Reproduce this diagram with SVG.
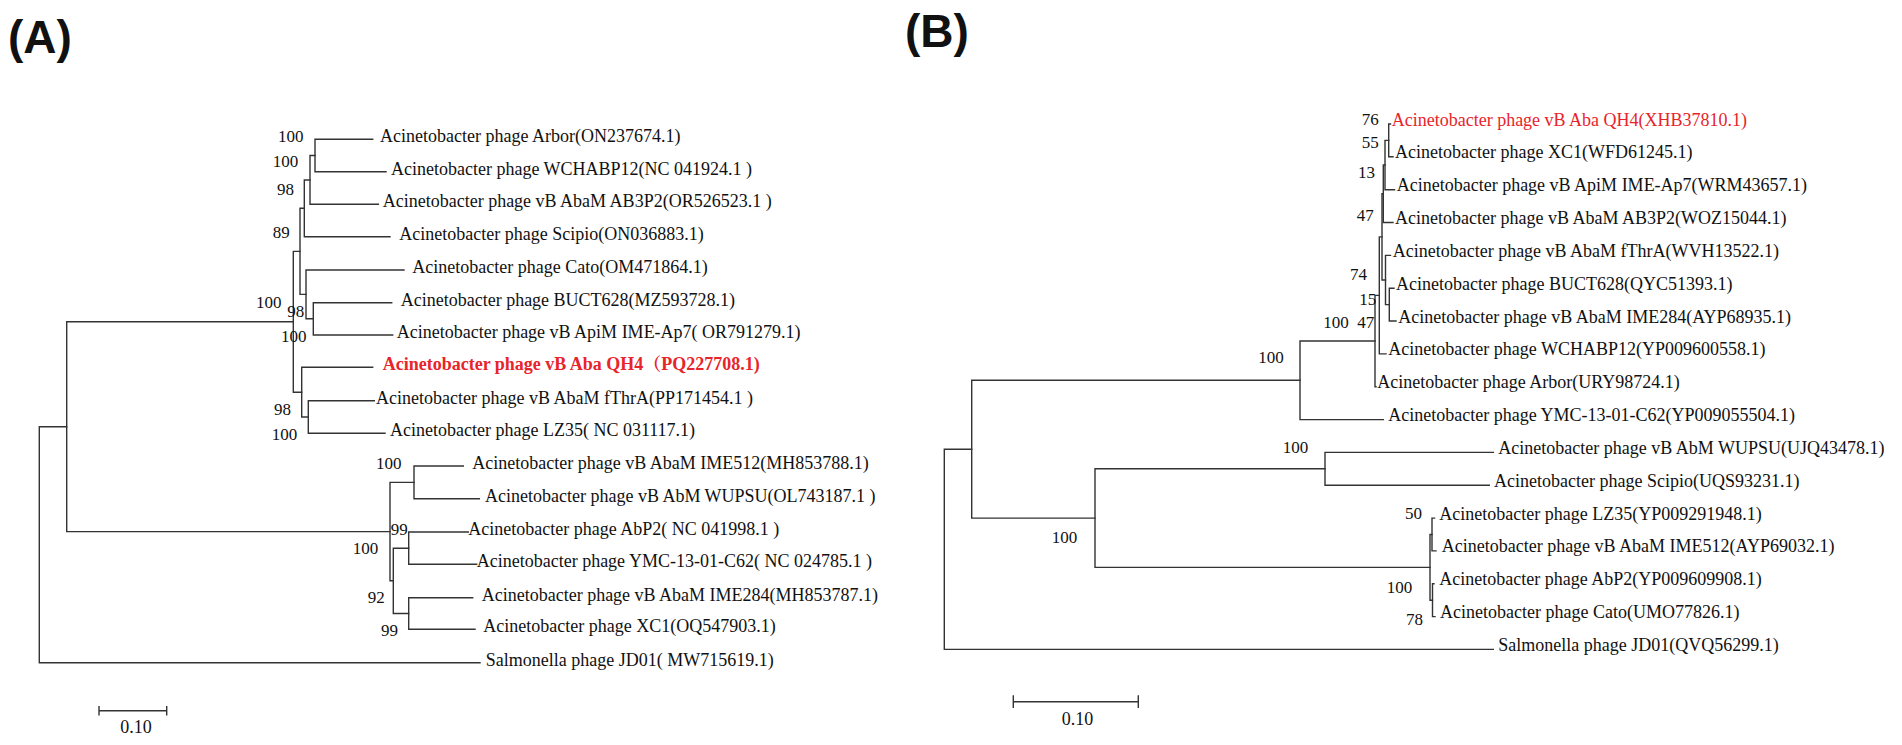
<svg xmlns="http://www.w3.org/2000/svg" width="1902" height="745" viewBox="0 0 1902 745">
<style>
.bg{fill:#ffffff}
.ln{fill:none;stroke:#333333;stroke-width:1.4;stroke-linecap:square}
.lf{font-family:"Liberation Serif","Times New Roman",serif;font-size:18px;fill:#111111}
.red{fill:#e8242b}
.bold{font-weight:bold}
.bs{font-family:"Liberation Serif","Times New Roman",serif;font-size:17px;fill:#111111}
.pl{font-family:"Liberation Sans",Arial,sans-serif;font-size:46px;font-weight:bold;fill:#111111}
</style>
<rect class="bg" x="0" y="0" width="1902" height="745"/>
<g id="panel-labels">
<text class="pl" x="8" y="53">(A)</text>
<text class="pl" x="905" y="47">(B)</text>
</g>
<g id="connectors">
<g id="connectors-A">
<path class="ln" d="M372.7,139.3H315V171.7H386"/>
<path class="ln" d="M315,155.5H310V204.3H378.3"/>
<path class="ln" d="M310,180H304.3V236.7H390"/>
<path class="ln" d="M391.7,302.7H313.3V335H392.7"/>
<path class="ln" d="M404,270H306V318.8H313.3"/>
<path class="ln" d="M304.3,208.3H300V294.4H306"/>
<path class="ln" d="M374.3,400.7H308.3V433.3H385"/>
<path class="ln" d="M372.7,367.3H301.7V417H308.3"/>
<path class="ln" d="M300,251.4H293.3V392.2H301.7"/>
<path class="ln" d="M463.3,466H414V498.7H479.3"/>
<path class="ln" d="M468.3,532H408.7V564.3H476.7"/>
<path class="ln" d="M472.7,597.7H408.7V629.3H475"/>
<path class="ln" d="M408.7,548.2H393.3V613.5H408.7"/>
<path class="ln" d="M414,482.4H390V580.8H393.3"/>
<path class="ln" d="M293.3,321.8H66.7V531.6H390"/>
<path class="ln" d="M66.7,426.7H39.3V662.7H480"/>
</g>
<g id="connectors-B">
<path class="ln" d="M1390.5,124H1388.7V156.8H1393"/>
<path class="ln" d="M1388.7,140.4H1385V189.7H1394.5"/>
<path class="ln" d="M1385,165H1383.3V222.5H1393"/>
<path class="ln" d="M1394,288.2H1389.3V321H1396"/>
<path class="ln" d="M1390.5,255.4H1385.5V304.6H1389.3"/>
<path class="ln" d="M1383.3,193.8H1382V280H1385.5"/>
<path class="ln" d="M1382,236.9H1379.3V353.9H1386"/>
<path class="ln" d="M1379.3,295.4H1375V386.7H1376"/>
<path class="ln" d="M1375,341H1300V419.6H1383.3"/>
<path class="ln" d="M1493.3,452.4H1325V485.2H1489.3"/>
<path class="ln" d="M1434.5,518.1H1432V550.9H1436"/>
<path class="ln" d="M1434,583.8H1432.5V616.6H1435"/>
<path class="ln" d="M1432,534.5H1430V600.2H1432.5"/>
<path class="ln" d="M1325,468.8H1095V567.4H1430"/>
<path class="ln" d="M1300,380.3H971.7V518.1H1095"/>
<path class="ln" d="M971.7,449.2H944.3V649.4H1493.3"/>
</g>
</g>
<g id="tree-A-leaves">
<g id="a-arbor"><text class="lf" x="380" y="142.3">Acinetobacter phage Arbor(ON237674.1)</text></g>
<g id="a-wchabp12"><text class="lf" x="391" y="174.7">Acinetobacter phage WCHABP12(NC 041924.1 )</text></g>
<g id="a-ab3p2"><text class="lf" x="382.7" y="207.3">Acinetobacter phage vB AbaM AB3P2(OR526523.1 )</text></g>
<g id="a-scipio"><text class="lf" x="399.3" y="239.7">Acinetobacter phage Scipio(ON036883.1)</text></g>
<g id="a-cato"><text class="lf" x="412.3" y="273">Acinetobacter phage Cato(OM471864.1)</text></g>
<g id="a-buct628"><text class="lf" x="400.7" y="305.7">Acinetobacter phage BUCT628(MZ593728.1)</text></g>
<g id="a-apim"><text class="lf" x="396.7" y="338">Acinetobacter phage vB ApiM IME-Ap7( OR791279.1)</text></g>
<g id="a-qh4"><text class="lf red bold" x="382.7" y="370.3" style="font-family:'Liberation Serif','Noto Serif CJK SC','Noto Sans CJK SC',serif">Acinetobacter phage vB Aba QH4（PQ227708.1)</text></g>
<g id="a-fthra"><text class="lf" x="376" y="403.7">Acinetobacter phage vB AbaM fThrA(PP171454.1 )</text></g>
<g id="a-lz35"><text class="lf" x="390" y="436.3">Acinetobacter phage LZ35( NC 031117.1)</text></g>
<g id="a-ime512"><text class="lf" x="472.3" y="469">Acinetobacter phage vB AbaM IME512(MH853788.1)</text></g>
<g id="a-wupsu"><text class="lf" x="485" y="501.7">Acinetobacter phage vB AbM WUPSU(OL743187.1 )</text></g>
<g id="a-abp2"><text class="lf" x="468.3" y="535">Acinetobacter phage AbP2( NC 041998.1 )</text></g>
<g id="a-ymc"><text class="lf" x="476.7" y="567.3">Acinetobacter phage YMC-13-01-C62( NC 024785.1 )</text></g>
<g id="a-ime284"><text class="lf" x="481.7" y="600.7">Acinetobacter phage vB AbaM IME284(MH853787.1)</text></g>
<g id="a-xc1"><text class="lf" x="483.3" y="632.3">Acinetobacter phage XC1(OQ547903.1)</text></g>
<g id="a-jd01"><text class="lf" x="485.7" y="665.7">Salmonella phage JD01( MW715619.1)</text></g>
</g>
<g id="tree-A-bootstrap">
<text class="bs" x="278" y="141.7">100</text>
<text class="bs" x="272.7" y="166.7">100</text>
<text class="bs" x="277" y="195">98</text>
<text class="bs" x="272.7" y="238.3">89</text>
<text class="bs" x="256" y="308.3">100</text>
<text class="bs" x="287.3" y="316.7">98</text>
<text class="bs" x="281" y="341.7">100</text>
<text class="bs" x="274" y="415">98</text>
<text class="bs" x="271.7" y="440">100</text>
<text class="bs" x="376" y="469.3">100</text>
<text class="bs" x="390.7" y="535">99</text>
<text class="bs" x="352.7" y="554.3">100</text>
<text class="bs" x="367.7" y="603.3">92</text>
<text class="bs" x="381" y="636">99</text>
</g>
<g id="scale-A">
<path class="ln" d="M99,710.7H166.7M99,706.7V714.7M166.7,706.7V714.7"/>
<text class="lf" x="136" y="733.3" text-anchor="middle">0.10</text>
</g>
<g id="tree-B-leaves">
<g id="b-qh4"><text class="lf red" x="1391.7" y="125.5">Acinetobacter phage vB Aba QH4(XHB37810.1)</text></g>
<g id="b-xc1"><text class="lf" x="1395" y="158.3">Acinetobacter phage XC1(WFD61245.1)</text></g>
<g id="b-apim"><text class="lf" x="1396.7" y="191.2">Acinetobacter phage vB ApiM IME-Ap7(WRM43657.1)</text></g>
<g id="b-ab3p2"><text class="lf" x="1395" y="224">Acinetobacter phage vB AbaM AB3P2(WOZ15044.1)</text></g>
<g id="b-fthra"><text class="lf" x="1392.7" y="256.9">Acinetobacter phage vB AbaM fThrA(WVH13522.1)</text></g>
<g id="b-buct628"><text class="lf" x="1396" y="289.7">Acinetobacter phage BUCT628(QYC51393.1)</text></g>
<g id="b-ime284"><text class="lf" x="1398.3" y="322.5">Acinetobacter phage vB AbaM IME284(AYP68935.1)</text></g>
<g id="b-wchabp12"><text class="lf" x="1388.3" y="355.4">Acinetobacter phage WCHABP12(YP009600558.1)</text></g>
<g id="b-arbor"><text class="lf" x="1377.3" y="388.2">Acinetobacter phage Arbor(URY98724.1)</text></g>
<g id="b-ymc"><text class="lf" x="1388.3" y="421.1">Acinetobacter phage YMC-13-01-C62(YP009055504.1)</text></g>
<g id="b-wupsu"><text class="lf" x="1498.3" y="453.9">Acinetobacter phage vB AbM WUPSU(UJQ43478.1)</text></g>
<g id="b-scipio"><text class="lf" x="1494" y="486.7">Acinetobacter phage Scipio(UQS93231.1)</text></g>
<g id="b-lz35"><text class="lf" x="1439.3" y="519.6">Acinetobacter phage LZ35(YP009291948.1)</text></g>
<g id="b-ime512"><text class="lf" x="1441.7" y="552.4">Acinetobacter phage vB AbaM IME512(AYP69032.1)</text></g>
<g id="b-abp2"><text class="lf" x="1439.3" y="585.3">Acinetobacter phage AbP2(YP009609908.1)</text></g>
<g id="b-cato"><text class="lf" x="1440" y="618.1">Acinetobacter phage Cato(UMO77826.1)</text></g>
<g id="b-jd01"><text class="lf" x="1498.3" y="650.9">Salmonella phage JD01(QVQ56299.1)</text></g>
</g>
<g id="tree-B-bootstrap">
<text class="bs" x="1361.7" y="125">76</text>
<text class="bs" x="1361.7" y="148.3">55</text>
<text class="bs" x="1358" y="177.7">13</text>
<text class="bs" x="1356.7" y="221">47</text>
<text class="bs" x="1350" y="280">74</text>
<text class="bs" x="1359.3" y="305">15</text>
<text class="bs" x="1323.3" y="328.3">100</text>
<text class="bs" x="1357.3" y="328.3">47</text>
<text class="bs" x="1258.3" y="363.3">100</text>
<text class="bs" x="1282.7" y="453.3">100</text>
<text class="bs" x="1051.7" y="543.3">100</text>
<text class="bs" x="1405" y="519.3">50</text>
<text class="bs" x="1386.7" y="592.7">100</text>
<text class="bs" x="1406" y="625">78</text>
</g>
<g id="scale-B">
<path class="ln" d="M1013.3,701.7H1138.3M1013.3,696V707.3M1138.3,696V707.3"/>
<text class="lf" x="1077.5" y="725" text-anchor="middle">0.10</text>
</g>
</svg>
